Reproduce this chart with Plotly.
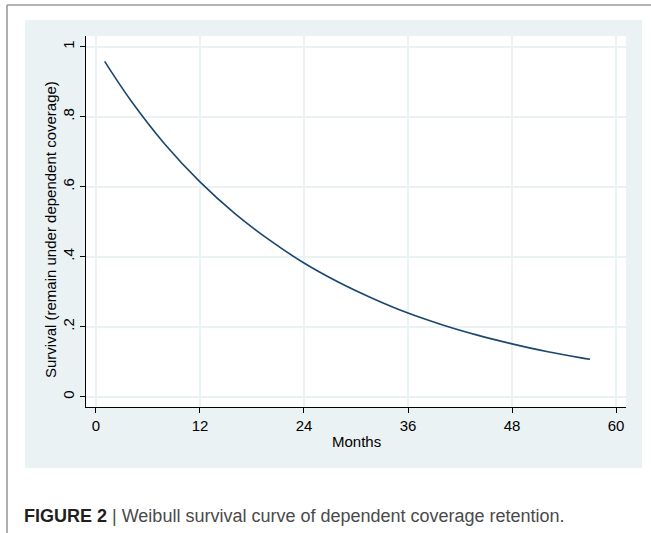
import plotly.graph_objects as go

# Values
months = [1, 4, 8, 12, 16, 20, 24, 28, 32, 36, 40, 44, 48, 52, 56, 57]
survival = [0.958, 0.847, 0.720, 0.614, 0.524, 0.448, 0.382, 0.327, 0.280,
            0.239, 0.205, 0.176, 0.151, 0.129, 0.111, 0.107]

x_ticks = [0, 12, 24, 36, 48, 60]
y_ticks = [0, 0.2, 0.4, 0.6, 0.8, 1]
y_tick_labels = ["0", ".2", ".4", ".6", ".8", "1"]

x_title = "Months"
y_title = "Survival (remain under dependent coverage)"
caption = ("<b><span style='color:#231f20'>FIGURE 2</span></b> | "
           "Weibull survival curve of dependent coverage retention.")

W, H = 651, 533
L, R, T, B = 86, 626, 36, 407
pw, ph = R - L, B - T

def px(x):
    return (x - L) / pw

def py(y):
    return (B - y) / ph

panel = "#eaf2f3"
font = "Liberation Sans, Arial, sans-serif"

fig = go.Figure()
fig.add_trace(go.Scatter(x=months, y=survival, mode="lines",
                         line=dict(color="#1a476f", width=1.6, shape="spline"),
                         hoverinfo="skip", showlegend=False))

shapes = [
    dict(type="rect", xref="paper", yref="paper", x0=px(25), x1=px(642),
         y0=py(468), y1=py(20), fillcolor=panel, line=dict(width=0), layer="below"),
    dict(type="rect", xref="paper", yref="paper", x0=0, x1=1, y0=0, y1=1,
         fillcolor="white", line=dict(width=0), layer="below"),
    dict(type="line", xref="paper", yref="paper", x0=px(7), x1=px(655),
         y0=py(5), y1=py(5), line=dict(color="#9a9a9a", width=1.6)),
    dict(type="line", xref="paper", yref="paper", x0=px(7), x1=px(7),
         y0=py(5), y1=py(540), line=dict(color="#9a9a9a", width=1.6)),
]

fig.update_layout(
    width=W, height=H,
    margin=dict(l=L, r=W - R, t=T, b=H - B, pad=0),
    paper_bgcolor="white", plot_bgcolor="white",
    shapes=shapes,
    font=dict(family=font, size=15, color="#000000"),
    xaxis=dict(range=[-1.15, 61.15], tickvals=x_ticks, ticks="outside", ticklen=5,
               tickcolor="black", showline=True, linecolor="black", linewidth=1.2,
               showgrid=True, gridcolor=panel, gridwidth=2, zeroline=False,
               ticklabelstandoff=0, tickfont=dict(size=15)),
    yaxis=dict(range=[-0.0294, 1.0306], tickvals=y_ticks, ticktext=y_tick_labels,
               ticks="outside", ticklen=5, tickcolor="black", tickangle=-90,
               showline=True, linecolor="black", linewidth=1.2,
               showgrid=True, gridcolor=panel, gridwidth=2, zeroline=False,
               ticklabelstandoff=0, tickfont=dict(size=15)),
    annotations=[
        dict(xref="paper", yref="paper", x=px(356), y=py(441), xanchor="center",
             yanchor="middle", showarrow=False, text=x_title,
             font=dict(family=font, size=15, color="#000000")),
        dict(xref="paper", yref="paper", x=px(50), y=py(230), xanchor="center",
             yanchor="middle", showarrow=False, text=y_title, textangle=-90,
             font=dict(family=font, size=15, color="#000000")),
        dict(xref="paper", yref="paper", x=px(22), y=py(516), xanchor="left",
             yanchor="middle", showarrow=False, text=caption,
             font=dict(family=font, size=18, color="#4a4a4a")),
    ],
)

fig.write_html("out.html", config={"displayModeBar": False},
               post_script="document.body.style.margin='0';")
